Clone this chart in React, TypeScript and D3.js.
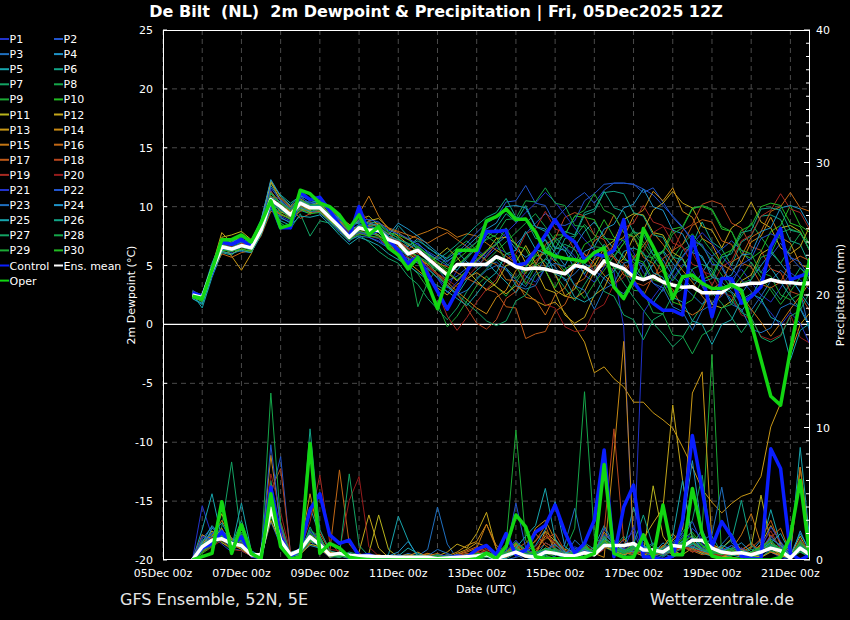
import React, { useEffect } from "react";
import * as d3 from "d3";

// ---------- DATA ----------
// time steps: hours after 05Dec 00z (6-hourly from +18h to +396h)
const stepCount = 64;
const xTickLabels = ["05Dec 00z", "07Dec 00z", "09Dec 00z", "11Dec 00z", "13Dec 00z", "15Dec 00z", "17Dec 00z", "19Dec 00z", "21Dec 00z"];
const dewTicks = [25, 20, 15, 10, 5, 0, -5, -10, -15, -20];
const precTicks = [40, 30, 20, 10, 0];

const memberNames = Array.from({ length: 30 }, (_, k) => "P" + (k + 1));
const memberColors = [
  "#2233cc", "#2255cc", "#1f6fbf", "#1f93c8", "#17a5ad", "#12a487", "#13a364", "#15a64a", "#1ca935", "#22bb22",
  "#b8b41c", "#c4a61a", "#c99816", "#c98a14", "#c47614", "#c26815", "#c05a18", "#b8461e", "#a82a22", "#961c1c",
  "#2233cc", "#2255cc", "#1f6fbf", "#1f93c8", "#17a5ad", "#12a487", "#13a364", "#15a64a", "#1ca935", "#22bb22",
];

const meanDew = [2.5,2.3,4.6,6.6,6.4,6.7,6.5,8.0,10.6,10.0,9.3,10.3,9.9,9.9,9.1,8.3,7.4,8.2,8.0,8.0,7.2,
  6.9,6.0,6.3,5.6,4.9,4.2,5.1,5.1,5.1,5.1, 5.75,5.4,4.9,4.7,4.8,4.7,4.5,4.3,5.0,4.85,
  4.3,5.4,5.05,4.75,4.05,3.8,4.1,3.6,3.35,3.15, 3.2,2.7,2.7,2.7,3.35,3.35,3.5,3.5,3.8,3.6, 3.55,3.45,3.45];
const controlDew = [2.7,2.4,4.4,7.0,6.8,7.2,6.6,8.3,10.3,8.2,8.2,11.2,10.6,10.8,9.7,8.45,7.45,10.0,7.7,8.0,7.2,
  6.3,5.2,5.7,4.3,2.8,1.3,2.85,4.5,6.0,7.9, 7.9,8.0,5.0,5.2,6.3,7.6,8.9,7.6,7.0,5.5,
  6.0,5.8,6.3,8.9,3.6,2.5,1.8,1.2,1.2,0.8, 7.45,4.2,0.65,3.9,3.9,1.8,2.35,3.2,6.6,8.15, 3.8,4.1,4.4];
const operDew = [2.4,2.2,4.6,7.2,7.2,7.6,7.0,8.6,10.5,8.2,8.45,11.4,11.1,10.3,10.0,9.3,8.15,9.3,7.6,8.3,6.5,
  5.9,4.7,5.7,3.5,1.35,4.05,6.3,6.3,6.3,8.8, 9.15,9.8,8.9,8.95,7.85,6.2,5.8,5.6,5.5,5.3,
  6.1,6.5,3.2,2.2,3.8,8.15,6.6,4.9,2.2,4.05, 4.2,3.5,3.05,3.05,3.35,2.9,0.1,-3.0,-6.1,-6.85, -2.2,2.1,5.6];

const P1 = [2.7,2.0,4.3,6.5,6.1,6.9,6.3,8.8,11.4,9.2,8.8,10.6,10.1,9.4,8.8,7.9,7.0,8.6,7.4,7.1,6.6, 6.2,5.4,5.9,4.8,3.9,3.1,4.6,5.8,6.4,5.7, 6.5,6.1,5.2,4.1,3.6,4.8,5.9,6.6,5.8,4.2, 3.6,4.9,6.2,7.3,6.1,4.4,3.5,2.8,3.9,5.1, 4.6,3.2,1.8,2.4,3.9,4.7,3.6,2.5,1.9,3.1, 4.4,3.8,2.9];
const P2 = [2.4,2.1,4.8,7.0,6.7,7.1,6.8,8.0,10.3,10.4,9.8,10.9,10.2,10.4,9.6,8.8,7.9,8.5,8.4,8.0,7.5, 7.1,6.4,6.9,6.1,5.5,5.0,5.9,6.4,7.0,7.6, 8.1,7.4,6.8,7.7,8.6,9.4,8.9,9.8,10.6,11.2, 10.3,11.4,12.0,12.0,11.9,11.2,11.6,10.4,9.1,8.2, 7.3,6.6,5.8,6.4,7.1,6.3,5.2,4.4,5.8,6.9, 5.7,4.8,4.1];
const P3 = [2.9,2.4,5.0,6.3,6.4,6.2,6.1,7.6,10.1,9.8,9.0,10.0,9.5,9.6,8.7,8.1,7.3,7.8,7.7,7.9,6.9, 6.4,5.8,6.7,5.9,4.7,3.7,4.1,4.8,5.5,4.9, 5.3,4.6,3.8,3.2,4.4,5.6,4.9,3.7,4.3,5.2, 4.6,3.9,3.1,2.6,3.8,5.2,6.4,5.5,4.1,3.3, 2.5,1.7,2.9,3.6,2.8,1.9,1.2,2.4,3.7,4.6, 3.9,2.8,-0.8];
const P4 = [2.2,1.8,4.4,6.9,6.8,6.6,6.9,8.5,11.8,10.6,9.9,10.4,10.4,10.1,9.5,8.9,8.2,8.8,8.5,8.3,7.4, 7.0,6.6,7.3,6.5,6.0,5.6,6.2,5.3,4.8,5.9, 6.8,7.5,6.4,5.7,6.3,7.2,6.1,5.0,6.6,7.9, 8.7,7.5,6.4,5.8,4.6,3.9,5.1,6.3,5.2,4.0, 3.1,4.4,5.7,4.8,3.3,2.6,3.8,5.0,6.1,5.2, 4.1,2.7,1.5];
const P5 = [2.6,1.4,4.0,6.1,5.9,6.6,6.3,7.9,10.6,9.1,8.6,9.7,9.4,9.8,9.0,8.5,7.8,8.3,8.2,8.0,7.0, 8.4,7.5,6.2,5.4,4.2,3.2,2.5,3.8,4.6,5.3, 4.4,3.6,2.7,3.9,5.1,6.3,7.4,6.5,5.5,4.3, 5.6,6.8,5.9,4.7,3.5,2.6,1.8,3.0,4.5,5.8, 6.9,5.6,4.4,3.3,2.0,1.1,2.3,3.9,4.8,3.6, 2.4,1.3,-0.3];
const P6 = [2.3,2.6,5.2,7.2,7.0,7.4,7.1,8.9,12.0,11.0,10.3,10.9,10.6,10.2,9.7,9.0,8.4,8.6,8.7,8.6,7.9, 7.3,6.7,7.1,6.6,5.9,5.1,4.6,5.6,6.5,7.3, 8.2,9.4,8.7,10.1,8.3,7.9,6.4,7.9,7.6,9.5, 9.8,11.3,9.9,9.6,7.8,7.7,5.9,6.2,4.4,6.3, 6.8,8.7,7.0,6.4,5.0,7.0,7.5,9.2,9.3,8.9, 7.1,6.8,5.0];
const P7 = [2.5,2.3,4.7,6.6,6.3,6.9,6.5,8.1,10.9,8.6,8.1,9.4,7.5,8.8,8.6,7.8,7.1,7.6,7.0,6.2,5.6, 5.2,4.1,3.4,2.2,1.3,0.4,1.4,2.8,3.9,4.7, 5.6,4.8,3.9,4.9,6.0,5.3,4.2,3.1,2.0,3.4, 4.7,5.9,4.8,3.5,2.3,1.2,0.1,-0.8,-1.9,-1.1, 0.3,1.6,2.7,1.8,0.6,-0.7,0.5,1.9,3.2,2.1, 3.5,4.8,3.9];
const P8 = [2.8,2.5,4.9,7.1,6.9,7.3,6.7,8.4,11.1,10.2,9.6,10.5,10.0,9.9,9.1,8.3,7.5,8.0,8.1,8.2,7.7, 7.4,5.7,1.5,3.6,4.8,5.7,6.5,7.1,6.3,5.4, 6.2,7.0,7.8,8.6,9.4,8.3,7.1,6.2,7.4,8.5, 7.6,6.5,5.7,6.9,8.0,7.0,5.9,4.8,3.7,4.9, 6.1,7.3,6.2,5.1,6.3,7.5,8.6,7.4,6.3,5.2, 6.5,7.7,6.8];
const P9 = [2.4,1.9,4.5,6.4,6.6,6.5,6.4,7.8,10.4,9.9,9.2,10.1,9.7,10.0,9.3,8.6,7.7,8.1,7.9,7.6,6.8, 6.3,5.1,4.3,3.1,1.8,-0.2,0.7,2.0,3.3,4.1, 3.2,2.4,3.6,4.8,5.9,6.7,5.6,4.5,3.3,2.2, 3.5,4.6,5.8,6.9,7.8,6.7,5.5,4.4,5.6,6.8, 7.7,6.6,5.4,4.2,3.0,4.1,5.3,4.0,2.9,1.7, 2.8,4.0,5.1];
const P10 = [2.6,2.2,4.6,6.7,6.5,6.8,6.6,8.2,10.7,9.5,9.4,10.2,9.9,9.7,9.0,8.2,7.4,8.4,8.3,8.5,7.8, 7.6,7.2,6.6,6.0,5.3,4.7,5.5,6.2,7.0,7.8, 7.4,6.0,5.9,4.3,5.8,6.0,7.6,7.6,9.2,9.1, 8.9,7.3,7.2,5.5,5.3,3.9,5.8,6.2,8.1,8.3, 9.9,10.0,9.7,8.1,7.9,6.0,5.6,6.2,7.9,8.4, 10.1,8.4,7.8];
const P11 = [2.3,2.0,4.2,7.4,7.6,7.9,7.2,8.6,12.2,10.8,10.0,10.7,10.1,10.3,9.4,8.7,8.0,8.9,9.2,8.4,7.3, 6.9,6.0,5.5,5.1,5.8,6.5,5.7,4.6,3.7,2.9, 3.5,5.0,5.3,6.7,5.2,4.6,2.9,2.4,3.0,4.7, 5.0,6.5,7.1,8.9,9.4,9.3,7.8,7.6,6.1,5.6, 3.9,3.4,1.7,1.4,2.0,3.7,4.2,6.0,6.5,8.2, 8.4,7.9,6.2];
const P12 = [2.7,2.3,4.9,7.8,6.9,7.6,7.0,8.7,12.1,10.5,9.5,9.8,9.6,10.6,9.8,9.1,8.5,8.0,8.8,9.0,8.2, 7.5,6.8,6.2,5.6,5.0,4.4,3.7,4.6,5.4,6.2, 7.3,7.4,6.9,5.2,4.7,3.0,2.7,0.8,0.1,0.6, 2.5,3.1,4.9,5.6,7.4,8.0,9.7,10.3,11.3,10.3, 9.9,8.3,8.0,6.5,8.2,8.8,10.4,8.7,8.2,6.5, 6.0,6.6,8.4];
const P13 = [2.4,2.1,4.4,6.9,5.8,4.6,6.0,8.0,10.5,9.6,9.1,10.1,9.8,9.9,8.9,8.0,7.2,7.9,8.0,7.6,6.8, 6.1,5.3,4.6,3.9,3.1,2.5,3.4,3.9,4.4,3.8, 3.2,2.6,3.3,2.7,2.0,1.6,1.9,1.0,-0.2,-1.5, -4.1,-3.6,-4.6,-5.3,-6.6,-6.6,-7.5,-8.1,-8.8,-10.4, -12.1,-14.0,-15.1,-16.0,-15.2,-14.6,-14.3,-12.9,-8.7,-6.7, -2.5,0.0,1.0];
const P14 = [2.5,2.2,4.7,6.2,6.0,6.4,6.2,7.7,10.0,9.3,9.0,9.9,9.5,9.6,8.8,8.0,7.5,7.7,7.8,7.5,7.0, 6.6,6.2,5.7,5.1,4.3,3.6,2.8,2.1,1.4,0.9, 2.3,2.9,4.6,5.1,6.4,4.9,4.3,2.4,2.2,2.8, 4.5,5.0,6.9,7.4,9.2,9.7,11.3,10.5,11.6,9.6, 9.1,7.3,6.8,5.1,4.6,5.2,7.0,7.5,9.1,7.4, 6.9,5.1,4.7];
const P15 = [2.6,2.4,4.5,6.5,6.2,6.7,6.4,8.1,10.9,10.0,9.6,10.0,9.7,10.2,9.4,8.8,8.1,9.4,10.9,9.2,8.1, 7.8,7.2,7.6,7.9,8.3,8.0,7.4,7.7,7.5,6.9, 6.3,5.8,5.2,4.6,5.4,6.2,5.3,4.3,5.1,6.0, 5.2,4.2,3.3,4.5,5.6,6.7,7.8,6.8,5.7,4.6, 3.6,2.4,1.4,2.6,3.7,2.5,1.3,0.2,-1.0,0.1, 1.3,2.4,3.6];
const P16 = [2.4,2.0,4.3,6.0,5.7,6.1,6.3,7.5,9.6,9.4,9.0,9.6,9.9,9.5,8.9,8.6,7.9,8.3,8.4,8.6,8.2, 7.9,7.6,7.3,6.9,7.4,7.8,7.2,6.6,6.0,5.4, 5.1,3.8,3.7,2.3,2.1,0.8,2.5,3.1,4.9,5.4, 7.1,7.6,9.3,7.8,7.4,5.7,5.2,3.5,3.0,1.3, 0.8,1.3,3.0,3.6,5.3,5.8,7.4,7.9,9.6,10.0, 11.2,9.9,9.6];
const P17 = [2.7,2.3,4.8,6.6,6.4,6.9,6.8,8.3,11.3,10.3,9.7,10.6,10.0,9.8,9.0,8.3,7.6,8.1,7.9,7.8,7.4, 7.0,6.4,6.0,5.6,5.2,4.9,4.4,3.9,3.5,3.0, 2.7,1.5,1.4,-1.2,-0.8,-0.6,1.1,1.7,3.4,3.9, 5.5,6.0,5.7,4.2,3.9,2.4,4.1,4.6,6.3,6.8, 8.4,8.9,8.7,7.1,6.8,5.2,4.9,3.4,3.1,3.6, 5.3,5.8,5.4];
const P18 = [2.5,2.1,4.5,6.8,6.6,6.6,6.7,8.4,10.8,10.7,9.9,9.0,9.4,9.7,9.5,8.7,7.9,9.7,8.8,8.1,7.7, 7.1,6.5,5.7,4.9,4.2,3.4,2.6,1.4,0.1,-0.4, 0.4,2.2,2.8,4.5,5.0,6.8,7.3,9.1,9.5,9.2, 7.6,7.2,5.6,5.2,3.6,3.3,3.8,5.6,6.2,8.0, 8.5,10.2,10.5,10.2,8.6,8.2,6.6,6.3,4.7,4.4, 2.8,2.5,1.1];
const P19 = [2.8,2.5,4.9,6.4,6.5,6.9,6.5,8.2,10.6,10.1,9.3,10.4,9.8,9.7,9.2,8.2,7.3,7.8,7.5,7.3,6.6, 6.2,5.7,5.2,4.6,2.8,0.7,-0.5,0.6,1.9,3.0, 3.8,5.5,6.0,7.7,8.1,9.6,8.1,7.8,6.3,6.0, 4.5,6.1,6.6,8.2,8.6,10.1,8.7,8.4,6.9,6.6, 5.1,4.8,3.3,4.9,5.4,7.1,7.6,9.2,9.7,11.1, 9.8,9.5,8.0];
const P20 = [2.3,2.4,4.6,6.7,6.8,6.5,6.6,7.9,10.4,10.2,9.1,10.2,9.3,10.0,9.3,8.5,7.8,8.4,8.2,7.9,7.1, 6.7,6.1,5.6,4.9,4.3,3.8,3.2,4.0,4.9,5.7, 6.9,5.4,5.1,3.6,3.3,1.7,1.4,-0.2,-0.6,-0.5, 1.2,1.7,3.4,4.0,5.7,6.2,7.8,8.3,8.0,6.5, 6.1,4.5,4.2,2.7,2.4,0.8,0.5,-1.0,-1.3,-0.9, 0.8,-1.1,-1.6];
const P21 = [2.6,2.2,4.4,6.6,6.5,6.8,6.4,8.0,10.5,9.7,9.3,10.3,9.9,9.8,9.1,8.2,7.4,7.8,7.6,7.3,6.4, 5.8,4.9,5.6,4.8,3.9,2.7,3.6,4.5,5.3,6.1, 6.9,7.8,8.6,9.5,10.3,11.2,10.4,9.3,8.2,7.2, 6.3,5.4,4.5,-0.2,-20,1.0,2.3,3.4,4.6,5.7, 6.8,7.8,6.9,5.8,4.8,3.8,2.8,1.9,1.0,-0.1, 1.0,0.1,-1.7];
const P22 = [2.4,2.0,4.6,6.9,6.7,7.0,6.9,8.6,11.6,10.5,9.8,10.8,10.3,10.5,9.7,8.9,8.2,8.9,8.9,8.7,8.0, 7.7,7.3,6.8,6.2,5.7,5.3,6.1,6.9,7.8,8.6, 9.1,10.4,10.5,11.8,10.3,10.1,8.5,8.4,8.8,10.5, 11.1,11.9,12.0,12.0,11.9,11.5,11.0,10.1,9.2,8.3, 7.0,6.8,5.1,5.0,3.4,5.1,5.6,7.3,7.7,7.3, 5.7,5.3,3.8];
const P23 = [2.5,2.3,4.8,6.4,6.2,6.6,6.5,8.1,10.2,9.0,8.7,9.9,9.6,9.5,8.7,8.0,7.2,7.5,7.4,7.0,6.5, 6.0,5.6,5.2,4.7,4.0,3.3,2.5,2.9,3.8,4.6, 5.0,4.8,3.3,3.0,3.3,4.8,5.2,4.9,3.3,2.9, 1.3,3.0,3.5,5.2,5.5,5.1,3.5,3.1,1.5,1.1, -0.5,1.2,1.7,3.3,1.7,1.3,-0.4,-0.7,-0.3,1.4, 1.8,1.4,-0.1];
const P24 = [2.7,2.5,5.1,7.2,7.1,7.2,7.0,8.8,12.3,10.9,10.1,11.0,10.5,10.4,9.6,9.0,8.3,8.7,8.6,8.4,7.6, 8.6,8.1,7.5,6.8,6.1,5.4,5.9,6.6,7.4,8.1, 8.6,10.0,10.1,9.9,8.3,8.1,6.5,6.3,4.7,6.2, 6.6,8.1,8.5,9.9,10.2,11.5,10.0,9.7,8.0,7.7, 6.1,5.8,4.0,3.8,4.2,5.9,6.0,7.9,8.2,9.9, 10.1,9.8,8.3];
const P25 = [2.2,1.7,4.1,6.2,6.0,6.3,6.1,7.6,9.8,8.8,8.4,9.2,9.1,9.3,8.5,7.6,6.8,7.4,7.1,6.7,6.0, 5.5,5.0,4.4,3.8,3.3,2.8,2.2,1.6,2.6,3.7, 4.4,6.0,6.3,7.9,6.4,6.0,4.3,3.9,2.3,1.9, 2.4,4.0,4.5,6.2,6.5,6.1,4.4,4.0,2.3,1.9, 0.3,0.0,-1.7,0.0,0.4,2.1,2.6,2.2,0.6,0.2, -3.0,-0.5,0.1];
const P26 = [2.6,2.2,4.7,6.8,6.5,7.0,6.8,8.3,10.8,10.4,9.7,10.5,10.1,10.1,9.4,8.7,7.9,8.4,8.3,8.2,7.5, 7.2,6.9,6.5,6.0,5.5,6.1,6.8,7.6,8.4,9.1, 9.5,10.7,9.1,8.9,7.3,7.2,5.4,7.3,7.5,9.3, 9.6,11.2,11.3,11.1,9.5,9.2,7.6,7.4,5.7,5.5, 3.8,3.6,3.9,5.7,6.0,7.8,8.0,9.8,9.9,9.7, 8.0,7.8,6.3];
const P27 = [2.4,2.0,4.4,6.5,6.3,6.6,6.3,8.0,10.3,9.7,9.0,10.0,9.6,9.8,9.0,8.1,7.3,7.9,7.7,7.6,6.9, 6.4,5.9,5.3,4.7,4.0,3.3,2.6,1.8,1.1,0.3, -0.1,0.3,2.0,2.5,4.2,4.7,6.4,6.8,6.4,4.8, 4.4,2.8,2.4,0.8,0.4,-1.3,0.4,0.9,2.5,3.0, 4.7,5.1,4.7,3.1,2.7,1.0,0.6,-1.1,-1.5,-1.0, 0.7,1.2,2.8];
const P28 = [2.8,2.4,5.0,7.0,6.8,7.1,6.9,8.5,11.2,10.3,9.8,10.6,10.2,10.2,9.3,8.5,7.6,8.3,8.1,7.9,7.3, 6.9,6.3,5.8,5.3,4.7,4.2,4.9,5.7,6.4,7.2, 7.6,8.9,9.0,10.5,10.4,11.6,10.3,10.1,8.4,8.3, 6.6,6.5,4.8,4.6,2.9,2.8,1.0,0.9,-0.9,-1.0, -2.5,-0.9,-0.4,1.4,1.7,3.5,3.8,5.7,6.0,7.8, 8.1,7.8,6.2];
const P29 = [2.5,2.1,4.5,6.6,6.4,6.7,6.5,8.1,10.6,9.8,9.2,10.2,9.8,9.7,9.1,8.3,7.5,8.1,7.9,7.8,7.1, 6.8,6.2,5.8,5.2,4.6,4.1,5.0,5.8,6.7,7.5, 6.9,5.3,5.0,3.4,5.0,5.5,7.1,7.6,9.2,9.7, 11.1,9.7,9.3,7.8,7.5,5.9,5.6,6.1,7.7,8.2, 9.8,10.1,9.8,8.3,7.9,6.3,6.0,4.4,4.1,2.5, 2.1,2.6,4.2];
const P30 = [2.3,2.0,4.3,6.3,6.2,6.4,6.2,7.8,10.2,9.4,8.9,9.8,9.4,9.5,8.8,8.1,7.2,7.7,7.5,7.4,6.7, 6.5,6.0,6.6,5.9,5.2,4.5,3.8,4.6,5.5,6.3, 6.8,8.2,6.7,6.4,4.9,4.6,3.1,4.7,5.2,6.8, 7.3,8.9,7.4,7.1,5.6,5.3,3.8,3.5,1.9,1.6, 2.1,3.8,4.2,5.9,6.3,8.0,8.4,10.0,10.3,10.1, 8.6,8.3,6.7];

const meanPrec = [0,1.0,1.5,1.6,1.25,1.1,0.4,0.4,3.9,1.5,0.4,0.75,1.75,1.15,0.4,0.5,0.35,0.3,0.3,0.25,0.25,
  0.2,0.2,0.2,0.2,0.1,0.15,0.2,0.25,0.3,0.4, 0.1,0.35,0.6,0.3,0.2,0.6,0.5,0.35,0.3,0.55,
  0.4,1.1,1.1,1.1,1.25,0.75,0.75,0.6,1.1,1.0, 1.5,1.5,0.9,0.6,0.5,0.55,0.4,0.6,0.9,0.7, 0.15,0.9,0.4];
const controlPrec = [0,0.9,1.25,2.1,1.15,1.75,0.5,0.2,5.5,1.75,0.25,0.8,3.8,5.0,1.9,1.25,1.5,0.3,0.4,0.1,0.1,
  0.2,0.1,0,0.1,0,0.1,0.3,0.2,0.8,1.1, 0.4,2.0,0.4,0.75,2.1,2.6,4.15,2.1,0.5,1.25,
  3.0,8.3,0.25,4.0,5.65,0.25,0.2,0,0.3,3.0, 9.4,5.3,1.0,2.9,1.75,0.3,0.1,0.1,8.4,6.9, 0.5,0,0.4];
const operPrec = [0,0.25,0.5,4.4,0.5,2.65,0.5,0.1,5.0,1.0,0.1,0.2,8.8,0.5,1.25,0.9,0.2,0.1,0,0,0,
  0,0,0,0,0,0,0,0,0.1,0.5, 0.1,1.0,3.4,2.5,0.25,0.1,0.1,0.1,0.1,0.2,
  0.5,7.2,0.5,0.2,0.2,1.9,0.2,4.15,0.4,0.4, 5.4,2.0,0.3,0.1,0.1,0,0,0,0,0.2, 1.75,6.0,0.2];

const R1 = [0,4.1,1.8,1.2,0.6,1.5,0.2,0.1,3.2,2.4,0.3,0.6,1.4,0.8,0.2,0.3,0.1,0.4,0.2,0,0, 0.1,0,0,0.3,0.2,0,0,0.1,0.4,0.6, 0.2,0.4,1.1,0.3,0,0.5,0.8,0.2,0.1,0.6, 0.3,1.8,0.9,1.5,2.1,0.4,0.2,0.6,1.2,0.8, 2.4,1.6,0.5,0.2,0.4,0.9,0.3,1.1,0.6,0.2, 0,0.8,0.3];
const R2 = [0,1.6,2.5,1.9,0.9,0.7,0.3,0,4.8,7.8,0.5,0.4,1.9,1.2,0.3,0.2,0.4,0.1,0,0.2,0.1, 0,0,0.2,0,0,0.1,0.3,0,0,0.2, 0,0.6,0.4,0,0.2,0.3,0.1,0.4,0.8,0.2, 0.5,1.2,0.7,0.3,0.9,1.6,0.4,0.2,0.8,1.9, 1.1,2.3,0.6,0.3,0.2,0.1,0.5,0.7,1.4,0.6, 0.2,1.1,0.4];
const R3 = [0,0.8,1.3,2.2,1.7,0.8,0.5,0.2,2.9,1.1,0.4,0.9,2.2,1.6,0.5,0.6,0.2,0.1,0.3,0.1,0, 0.2,0.5,0.3,0.8,4.0,1.2,0.1,0,0.2,0.3, 0.1,0,0.2,0.4,0.1,0,0.3,1.2,3.9,0.6, 0.3,0.9,1.4,0.6,0.4,0.8,1.3,0.5,0.2,0.6, 1.7,0.9,0.4,1.2,2.0,0.6,0.3,0.2,0.8,1.3, 0.4,0.6,0.2];
const R4 = [0,1.2,2.0,2.8,1.4,1.9,0.6,0.3,4.4,1.8,0.2,0.5,1.1,0.9,0.4,0.2,0.5,0.2,0,0,0.2, 0.1,0.3,0,0,0.4,0.2,0,0.1,0,0.5, 0.3,0.2,0.7,0.2,0,0.4,1.6,0.5,0.3,0.9, 0.4,1.5,0.8,0.2,1.1,0.7,0.5,1.3,0.6,2.4, 7.5,2.1,0.6,0.9,0.4,0.2,0.6,1.5,0.7,0.3, 0.1,2.2,0.5];
const R5 = [0,2.3,5.0,1.6,0.8,1.2,0.4,0.1,3.6,1.4,0.6,0.8,4.0,1.8,0.3,0.5,0.2,0.3,0.1,0.2,0.4, 3.3,1.5,0.2,0.1,0,0.2,0.4,0.3,0.1,0, 0.2,0.1,0.5,0.3,0.2,1.3,0.9,0.3,0.5,0.4, 1.0,2.6,1.2,0.8,4.0,1.5,0.6,0.3,0.9,1.4, 0.8,0.5,0.3,0.6,1.1,0.7,0.4,0.9,3.8,1.2, 0.3,1.5,0.6];
const R6 = [0,1.0,1.4,1.8,1.1,3.0,0.7,0.3,5.1,2.0,0.3,0.4,2.5,1.0,0.6,0.4,0.3,0.2,0.4,0.1,0.2, 0,0.1,0.3,0.2,0,0,0.1,0.5,0.2,0.3, 0.6,0.2,0.9,0.5,0.3,0.8,0.4,0.2,0.6,1.1, 0.5,1.9,1.3,0.7,0.5,1.1,0.8,0.4,1.6,0.9, 1.3,0.7,1.8,0.5,0.3,0.6,0.2,0.4,1.0,0.5, 0.2,0.9,0.3];
const R7 = [0,0.6,1.1,2.5,7.4,1.6,0.4,0.2,6.0,1.3,0.2,0.7,1.6,1.3,0.2,0.3,0.6,0.4,0.2,0,0.1, 0.3,0,0.1,0.2,0.3,0.1,0,0,0.2,0.4, 0.1,0.3,0.8,0.6,0.2,0.4,0.7,0.3,0.2,0.8, 0.6,1.4,0.9,1.8,0.6,0.3,0.5,0.9,0.4,1.2, 0.9,1.6,0.5,0.3,0.7,0.4,0.2,0.5,0.9,0.4, 0.3,0.7,0.2];
const R8 = [0,1.5,1.9,1.4,0.7,2.1,0.3,0.1,4.2,1.9,0.4,0.6,1.8,0.9,0.4,0.6,0.3,0.2,0.1,0.3,0, 0.2,0.1,0,0.1,0.2,0,0.3,0.2,0.4,0.6, 0.3,0.5,1.4,0.8,0.3,0.6,1.1,0.7,2.4,12.7, 1.8,1.0,0.6,0.4,0.8,1.3,0.6,0.3,0.7,1.5, 1.0,0.6,0.4,0.2,0.5,0.8,0.3,0.6,0.9,0.5, 0.2,1.2,0.4];
const R9 = [0,0.9,1.6,2.0,1.3,0.9,0.5,0.2,3.8,1.6,0.3,0.5,1.5,1.1,0.3,0.2,0.4,0.1,0,0.1,0.3, 0.1,0.2,0.4,0.1,0,0.3,0.2,0.1,0,0.2, 0.4,0.2,0.6,0.3,0.5,0.2,0.4,0.6,0.3,0.9, 0.4,1.1,0.8,0.5,1.2,0.6,0.3,0.8,1.4,0.9, 1.2,2.3,15.5,0,0.3,0.6,0.4,0.2,0.7,0.5, 0.1,0.6,0.3];
const R10 = [0,0.5,1.0,1.7,1.0,1.4,0.3,0.1,4.6,1.2,0.2,0.6,2.0,1.4,0.5,0.3,0.2,0.3,0.2,0,0.1, 0,0.2,0.1,0.3,0.1,0,0.2,0.3,0.1,0.3, 0.2,0.4,1.0,0.4,0.1,0.3,0.6,0.4,0.2,0.7, 0.3,1.6,1.1,0.6,0.3,0.9,0.5,1.0,0.6,1.3, 1.8,1.1,0.4,0.2,0.6,0.3,0.5,0.8,1.2,0.6, 0.2,1.4,0.5];
const R11 = [0,1.3,1.7,3.5,1.5,1.0,0.6,0.2,3.4,1.5,0.5,0.4,1.2,1.0,0.2,0.5,0.3,0.2,0.5,3.4,0.8, 0.2,0.1,0,0.2,0.3,0.1,0,0.4,0.6,0.5, 0.2,0.3,0.6,0.2,0.4,0.9,0.5,0.3,0.6,0.4, 0.7,1.3,0.6,0.9,1.4,0.5,5.6,1.8,0.7,0.4, 0.9,0.5,1.2,0.8,0.4,0.6,1.0,4.9,1.3,0.6, 0.3,1.8,0.4];
const R12 = [0,1.1,2.2,1.3,0.9,1.7,0.4,0.1,5.6,2.1,0.3,0.8,1.7,1.2,0.4,0.3,0.2,0.6,3.4,0.9,0.2, 0.3,0.4,0.2,0.5,0.3,0.6,1.2,0.9,2.0,3.6, 0.8,0.5,1.1,0.4,0.3,2.2,1.4,0.6,0.5,0.8, 0.4,2.1,1.2,0.5,0.9,1.6,2.8,3.9,11.7,6.0, 1.5,0.7,0.4,0.9,1.6,0.8,0.5,1.2,2.6,1.3, 0.6,7.0,1.1];
const R13 = [0,0.7,1.2,1.9,1.2,0.8,0.3,0.2,3.0,1.3,0.4,0.7,1.9,0.8,0.3,0.4,0.2,0.1,0.2,0.3,0.1, 0,0.3,0.1,0.4,0.2,0.1,0.5,0.8,1.3,1.0, 0.4,0.2,0.9,0.5,0.6,1.8,1.2,0.4,0.3,0.6, 0.5,1.0,0.7,0.4,0.6,0.3,0.8,0.5,1.5,2.3, 12.6,14.2,1.2,0.3,0.2,0.1,0.4,0.2,0.6,0.3, 0.2,0.8,0.3];
const R14 = [0,1.9,1.5,2.4,1.0,1.3,0.5,0.2,7.9,2.6,0.3,0.9,5.0,1.5,0.6,0.4,0.3,0.5,0.2,0.4,0.2, 0.1,0.3,0.6,0.2,0.4,0.3,0.6,1.1,1.4,2.7, 1.1,0.6,1.3,0.7,2.4,3.0,1.5,0.8,0.6,1.0, 0.5,0.2,8.0,16.5,1.2,0.7,0.5,1.0,2.0,1.1, 0.6,0.9,0.4,0.3,0.5,0.7,1.3,0.6,0.9,0.4, 0.3,1.0,0.5];
const R15 = [0,1.4,1.8,3.0,1.6,1.1,0.6,0.3,4.9,1.7,0.4,0.5,1.6,1.3,0.4,0.5,0.3,0.2,0.4,0.2,0.1, 0.3,0.2,0.1,0.3,0.5,0.2,0.4,0.6,0.9,2.7, 0.9,0.4,1.2,0.6,1.5,2.1,0.8,0.5,0.4,0.7, 0.6,1.4,1.0,0.5,0.8,0.4,0.6,1.1,0.7,0.9, 1.5,0.6,0.3,0.5,0.8,1.9,3.5,1.2,0.6,0.4, 0.2,1.3,0.6];
const R16 = [0,0.8,1.3,1.6,1.1,0.9,0.4,0.2,3.9,1.6,0.5,0.6,1.4,1.2,0.6,6.8,1.2,0.3,0.4,0.2,0.1, 0.2,0.1,0.3,0.5,0.2,0.4,0.3,0.2,0.6,1.1, 0.5,0.3,0.8,1.3,2.0,1.1,0.6,0.4,0.5,0.9, 0.4,1.2,0.8,1.6,0.9,0.5,0.7,0.4,0.8,1.2, 0.7,0.4,0.6,1.0,0.5,0.3,0.6,0.9,1.7,2.4, 0.5,7.0,1.2];
const R17 = [0,1.0,1.6,2.1,1.2,1.5,0.5,0.1,4.0,2.2,0.3,0.4,1.3,2.0,0.7,0.4,0.3,0.2,0.1,0.3,0.2, 0.1,0,0.2,0.3,0.1,0.2,0.4,0.7,1.0,0.6, 0.3,0.2,0.6,0.9,1.4,2.6,0.8,0.5,0.3,0.6, 0.9,1.7,1.1,0.6,0.4,0.7,0.3,0.6,1.0,0.8, 1.4,0.9,0.5,0.4,0.7,0.5,0.9,1.6,3.0,1.1, 0.4,0.8,0.3];
const R18 = [0,0.9,1.4,1.8,0.9,1.2,0.5,0.3,5.3,6.9,0.6,0.5,1.8,1.0,0.4,0.6,0.4,0.3,0.2,0.1,0, 0.2,0.3,0.1,0.2,0,0.1,0.3,0.5,0.4,0.8, 0.4,0.6,0.9,0.4,0.8,1.6,2.0,0.7,0.4,1.2, 0.6,2.2,9.9,1.4,0.6,0.9,0.5,0.8,0.4,1.1, 0.8,0.6,1.3,0.5,0.4,0.8,1.2,0.7,1.9,0.9, 0.3,1.4,0.5];
const R19 = [0,0.6,1.0,1.5,0.8,0.7,0.3,0.2,3.5,2.9,0.4,0.8,2.9,6.4,1.4,0.5,0.3,0.4,0.2,0.1,0.3, 0.1,0.2,0,0.1,0.3,0.2,0.1,0.4,0.6,0.9, 0.3,0.5,0.7,0.3,0.6,1.3,0.9,0.4,0.6,0.5, 0.3,0.8,1.5,0.9,0.5,0.6,0.9,0.4,0.7,1.0, 0.6,0.8,0.4,0.3,0.6,0.9,0.5,1.1,2.2,0.8, 0.3,0.9,0.4];
const R20 = [0,1.2,1.7,2.0,1.4,1.0,0.4,0.1,6.5,3.6,0.5,0.6,1.6,2.2,0.8,0.7,4.5,6.3,1.0,0.3,0.2, 0.3,0.1,0.2,0,0.2,0.1,0.3,0.2,0.5,0.7, 0.2,0.4,0.6,0.8,1.0,1.9,1.3,0.6,0.4,0.8, 0.4,1.1,0.9,0.6,1.3,0.7,0.5,0.9,0.6,0.8, 1.1,0.7,0.5,0.3,0.8,0.6,0.4,1.0,1.4,0.7, 0.2,1.6,0.6];
const R21 = [0,1.8,1.5,1.7,1.0,1.3,0.5,0.2,4.3,1.8,0.3,0.5,1.7,1.4,0.4,0.3,0.2,0.1,0.3,0.1,0, 0.2,0.3,0.1,0.2,0.4,0.3,0.1,0,0.3,0.5, 0.1,0.7,1.5,0.6,0.3,0.5,0.8,0.4,1.0,0.7, 0.5,1.9,1.4,0.8,2.5,0.6,0.4,0.8,1.3,2.0, 1.6,0.9,0.5,0.7,1.1,0.6,0.3,0.8,2.5,1.4, 0.4,0.9,0.3];
const R22 = [0,1.4,2.0,2.3,1.2,1.6,0.4,0.2,8.7,2.5,0.4,0.6,2.1,1.5,0.3,0.4,0.2,0.3,0.1,0.2,0.1, 0.2,0.1,0.3,0.1,0.2,0.4,0.2,0.3,0.1,0.4, 0.3,0.6,4.3,0.9,0.4,0.7,1.2,0.5,0.9,0.6, 0.4,2.4,1.0,0.7,1.4,0.8,0.5,0.6,1.1,1.7, 2.9,1.2,0.6,0.8,0.5,0.9,0.4,0.7,1.8,1.0, 0.3,1.2,0.5];
const R23 = [0,1.1,1.8,1.6,1.3,1.4,0.6,0.3,4.5,1.4,0.2,0.7,1.5,1.1,0.5,0.4,0.3,0.2,0.2,0.1,0.2, 0.4,0.2,0.1,0.3,0.8,0.5,0.2,0.1,0.2,0.3, 0.2,0.4,0.6,0.3,0.5,0.8,0.6,0.3,1.5,0.8, 0.6,1.3,0.9,0.5,1.0,0.7,0.9,0.4,0.8,1.2, 0.9,1.5,1.9,5.5,1.3,0.7,0.5,0.6,1.1,0.8, 0.2,1.0,0.4];
const R24 = [0,0.9,2.4,1.9,1.1,2.4,0.5,0.2,3.9,1.7,0.4,0.5,1.8,1.2,0.3,0.5,0.2,0.3,0.1,0.2,0.3, 0.6,1.4,0.3,0.2,0.1,0.3,0.2,0.4,0.3,0.5, 0.4,0.3,0.8,0.6,1.1,2.3,4.4,1.0,0.5,0.9, 0.7,1.6,1.2,0.8,0.6,1.0,0.7,0.5,0.9,1.4, 1.0,0.7,0.5,1.1,0.8,1.3,0.6,0.9,1.6,1.1, 0.4,2.0,0.7];
const R25 = [0,1.3,2.6,1.8,0.9,4.3,0.7,0.2,3.7,1.5,0.3,0.4,1.6,1.0,0.4,0.3,0.2,0.2,0.3,0.1,0.2, 0.3,0.9,0.5,0.2,0.1,0.2,0.3,0.2,0.4,0.6, 0.3,0.5,0.9,1.8,2.6,5.4,1.6,0.6,0.4,0.8, 0.5,1.2,0.8,0.6,0.9,1.1,0.6,0.9,1.8,6.0, 1.7,0.8,0.5,0.7,0.9,0.6,0.4,0.8,1.3,2.0, 0.5,8.5,1.3];
const R26 = [0,1.0,1.5,2.0,1.2,1.1,0.4,0.1,4.1,1.9,0.4,0.6,9.9,2.3,0.7,0.5,0.3,0.2,0.1,0.2,0.1, 0.2,0.1,0.2,0.3,0.2,0.1,0.2,0.3,0.2,0.4, 0.2,0.3,0.7,0.4,0.3,0.9,0.7,0.4,0.6,1.3, 0.8,1.7,1.0,0.6,1.2,3.4,1.0,0.7,0.5,0.9, 1.2,0.8,0.6,0.9,1.5,4.5,1.1,0.6,1.0,0.7, 0.3,1.1,0.4];
const R27 = [0,0.7,1.3,1.7,1.4,0.9,0.5,0.3,4.7,1.6,0.3,0.5,1.4,1.1,0.3,0.4,6.5,1.1,0.3,0.1,0.2, 0.1,0.3,0.2,0.1,0.3,0.2,0.4,0.1,0.3,0.5, 0.3,0.4,0.8,0.5,0.4,0.6,0.9,0.5,0.3,1.0, 0.6,1.3,0.7,0.5,0.8,0.6,1.2,0.5,1.0,2.1, 3.0,6.4,0.9,0.4,0.7,0.5,0.8,0.6,1.2,0.9, 0.3,1.3,0.5];
const R28 = [0,1.2,1.6,2.2,1.5,1.0,0.6,0.2,12.6,2.8,0.4,0.5,2.3,1.7,0.5,0.3,0.4,0.2,0.2,0.1,0.3, 0.2,0.1,0.3,0.2,0.4,0.1,0.2,0.3,0.1,0.3, 0.2,0.5,0.9,0.4,0.6,0.8,0.5,0.3,0.7,1.1, 0.5,1.8,0.9,0.6,1.0,0.8,0.4,0.7,1.2,0.9, 1.4,0.8,0.5,0.6,0.9,0.7,0.4,0.6,1.1,0.8, 0.3,1.0,0.4];
const R29 = [0,0.8,1.4,1.8,1.1,1.2,0.4,0.2,4.4,1.7,0.5,0.6,1.9,1.3,0.4,0.5,0.3,0.1,0.3,0.2,0.1, 0.3,0.2,0.1,0.2,0.3,0.2,0.3,0.2,0.4,0.6, 0.4,1.2,9.8,1.5,0.6,0.8,0.6,0.4,0.5,0.9, 0.6,1.4,0.8,0.5,0.9,0.7,0.5,0.8,1.0,1.3, 1.9,1.0,0.6,0.4,0.7,0.5,0.6,0.9,1.4,0.8, 0.2,1.2,0.5];
const R30 = [0,0.6,1.2,1.9,1.3,1.5,0.5,0.1,3.3,1.4,0.3,0.7,1.5,1.2,0.4,0.3,0.2,0.3,0.1,0.2,0.2, 0.1,0.2,0.3,0.1,0.2,0.3,0.1,0.2,0.5,0.4, 0.3,0.6,1.3,0.7,0.4,0.6,0.8,0.3,0.5,1.2, 0.4,1.5,1.0,0.7,1.1,0.6,0.8,0.5,0.9,1.6, 2.1,1.1,0.7,0.5,0.8,0.4,0.6,1.0,1.5,0.7, 0.3,1.4,0.6];

const memberDew = [P1,P2,P3,P4,P5,P6,P7,P8,P9,P10,P11,P12,P13,P14,P15,P16,P17,P18,P19,P20,P21,P22,P23,P24,P25,P26,P27,P28,P29,P30];
const memberPrec = [R1,R2,R3,R4,R5,R6,R7,R8,R9,R10,R11,R12,R13,R14,R15,R16,R17,R18,R19,R20,R21,R22,R23,R24,R25,R26,R27,R28,R29,R30];

// ---------- LAYOUT ----------
const W = 850, H = 620;
const L = 163, R = 810, T = 30, B = 560;
const FONT = "DejaVu Sans, Verdana, sans-serif";
const controlColor = "#0a1eff";
const operColor = "#12d612";

const hours = d3.range(stepCount).map((i) => 18 + 6 * i);
const x = d3.scaleLinear().domain([0, 396]).range([L, R]);
const yDew = d3.scaleLinear().domain([-20, 25]).range([B, T]);
const yPr = d3.scaleLinear().domain([0, 40]).range([B, T]);

const lineDew = d3.line<number>().x((_, i) => x(hours[i])).y((d) => yDew(d));
const linePr = d3.line<number>().x((_, i) => x(hours[i])).y((d) => yPr(d));

export default function App() {
  useEffect(() => {
    document.body.style.margin = "0";
    document.body.style.background = "#000";
  }, []);

  const dayLines = d3.range(0, 397, 24);
  const gridDew = [20, 15, 10, 5, -5, -10, -15];
  const minorPr = d3.range(1, 40);

  const legendRows: { name: string; color: string; col: number; row: number }[] = [];
  memberNames.forEach((n, k) => legendRows.push({ name: n, color: memberColors[k], col: k % 2, row: Math.floor(k / 2) }));
  legendRows.push({ name: "Control", color: controlColor, col: 0, row: 15 });
  legendRows.push({ name: "Ens. mean", color: "#ffffff", col: 1, row: 15 });
  legendRows.push({ name: "Oper", color: operColor, col: 0, row: 16 });

  return (
    <svg width={W} height={H} style={{ position: "absolute", left: 0, top: 0, background: "#000" }} fontFamily={FONT}>
      <rect x={0} y={0} width={W} height={H} fill="#000" />
      <defs>
        <clipPath id="plotclip">
          <rect x={L} y={T} width={R - L} height={B - T} />
        </clipPath>
      </defs>

      {/* title */}
      <text x={436} y={17} textAnchor="middle" fill="#fff" fontSize={16} fontWeight="bold" xmlSpace="preserve" style={{ whiteSpace: "pre" }}>
        {"De Bilt  (NL)  2m Dewpoint & Precipitation | Fri, 05Dec2025 12Z"}
      </text>

      {/* grid */}
      {dayLines.map((h) => (
        <line key={"v" + h} x1={x(h)} x2={x(h)} y1={T} y2={B} stroke="#4a4a4a" strokeWidth={1} strokeDasharray="5,4" />
      ))}
      {gridDew.map((v) => (
        <line key={"h" + v} x1={L} x2={R} y1={yDew(v)} y2={yDew(v)} stroke="#4a4a4a" strokeWidth={1} strokeDasharray="5,4" />
      ))}
      <line x1={L} x2={R} y1={yDew(0)} y2={yDew(0)} stroke="#fff" strokeWidth={1.2} />

      {/* series */}
      <g clipPath="url(#plotclip)" fill="none" strokeLinejoin="round">
        {memberDew.map((s, k) => (
          <path key={"d" + k} d={lineDew(s) || ""} stroke={memberColors[k]} strokeWidth={1} />
        ))}
        {memberPrec.map((s, k) => (
          <path key={"p" + k} d={linePr(s) || ""} stroke={memberColors[k]} strokeWidth={1} />
        ))}
        <path d={lineDew(controlDew) || ""} stroke={controlColor} strokeWidth={3.5} />
        <path d={linePr(controlPrec) || ""} stroke={controlColor} strokeWidth={3.5} />
        <path d={lineDew(meanDew) || ""} stroke="#fff" strokeWidth={3.5} />
        <path d={linePr(meanPrec) || ""} stroke="#fff" strokeWidth={3.5} />
        <path d={lineDew(operDew) || ""} stroke={operColor} strokeWidth={3.5} />
        <path d={linePr(operPrec) || ""} stroke={operColor} strokeWidth={3.5} />
      </g>

      {/* frame */}
      <rect x={L + 0.5} y={T + 0.5} width={R - L - 1} height={B - T - 1} fill="none" stroke="#fff" strokeWidth={1} />

      {/* left axis */}
      {dewTicks.map((v) => (
        <g key={"lt" + v}>
          <line x1={L} x2={L + 4} y1={yDew(v)} y2={yDew(v)} stroke="#fff" />
          <text x={153} y={yDew(v) + 4} textAnchor="end" fill="#fff" fontSize={11}>{v}</text>
        </g>
      ))}
      <text transform={`translate(135,295) rotate(-90)`} textAnchor="middle" fill="#fff" fontSize={11}>2m Dewpoint (°C)</text>

      {/* right axis */}
      {minorPr.map((v) => (
        <line key={"rm" + v} x1={R - 4} x2={R} y1={yPr(v)} y2={yPr(v)} stroke="#fff" />
      ))}
      {precTicks.map((v) => (
        <g key={"rt" + v}>
          <line x1={R - 6} x2={R} y1={yPr(v)} y2={yPr(v)} stroke="#fff" />
          <text x={816} y={yPr(v) + 4} textAnchor="start" fill="#fff" fontSize={11}>{v}</text>
        </g>
      ))}
      <text transform={`translate(844,295) rotate(-90)`} textAnchor="middle" fill="#fff" fontSize={11}>Precipitation (mm)</text>

      {/* x axis */}
      {xTickLabels.map((lab, k) => (
        <text key={"xt" + k} x={x(k * 48)} y={577} textAnchor="middle" fill="#fff" fontSize={11}>{lab}</text>
      ))}
      <text x={486} y={593} textAnchor="middle" fill="#fff" fontSize={11}>Date (UTC)</text>

      {/* footer */}
      <text x={120} y={605} fill="#e6e6e6" fontSize={16}>GFS Ensemble, 52N, 5E</text>
      <text x={794} y={605} textAnchor="end" fill="#e6e6e6" fontSize={16}>Wetterzentrale.de</text>

      {/* legend */}
      {legendRows.map((r) => {
        const lx = r.col === 0 ? 0 : 54;
        const ly = 39 + r.row * 15.1;
        return (
          <g key={"lg" + r.name}>
            <line x1={lx} x2={lx + 9} y1={ly} y2={ly} stroke={r.color} strokeWidth={2} />
            <text x={lx + 9.5} y={ly + 4} fill="#fff" fontSize={11}>{r.name}</text>
          </g>
        );
      })}
    </svg>
  );
}
